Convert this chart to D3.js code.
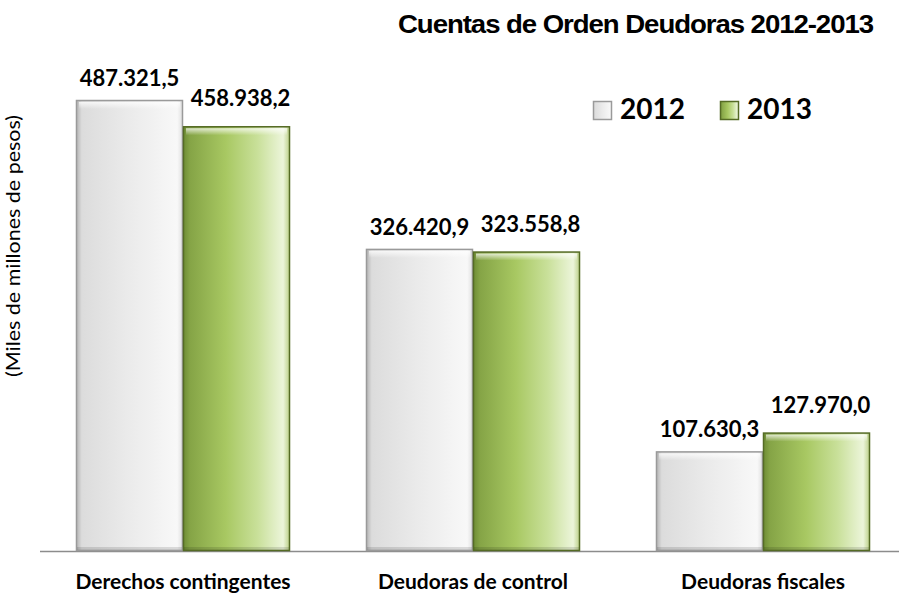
<!DOCTYPE html>
<html>
<head>
<meta charset="utf-8">
<script src="https://cdn.jsdelivr.net/npm/d3@7"></script>
<style>
  body { margin: 0; background: #fff; }
  svg { display: block; }
</style>
</head>
<body>
<script>
// datos del gráfico
const categorias = ['Derechos contingentes', 'Deudoras de control', 'Deudoras fiscales'];
const anios = ['2012', '2013'];
const valores2012 = [487321.5, 326420.9, 107630.3];
const valores2013 = [458938.2, 323558.8, 127970.0];
const etiquetas2012 = ['487.321,5', '326.420,9', '107.630,3'];
const etiquetas2013 = ['458.938,2', '323.558,8', '127.970,0'];

const width = 899, height = 594;
const base = 551, topY = 100;

const svg = d3.select('body').append('svg')
  .attr('width', width)
  .attr('height', height);

const defs = svg.append('defs');

// degradado gris (2012)
const gGris = defs.append('linearGradient').attr('id', 'gris').attr('x1', 0).attr('x2', 1).attr('y1', 0).attr('y2', 0);
[[0, '#b4b4b4'], [0.05, '#dcdcdc'], [0.5, '#ebebeb'], [0.95, '#f8f8f8'], [1, '#e0e0e0']]
  .forEach(function(s) { gGris.append('stop').attr('offset', s[0]).attr('stop-color', s[1]); });

// degradado verde (2013)
const gVerde = defs.append('linearGradient').attr('id', 'verde').attr('x1', 0).attr('x2', 1).attr('y1', 0).attr('y2', 0);
[[0, '#6f8d35'], [0.06, '#85a446'], [0.4, '#a8c862'], [0.7, '#c9e09a'], [0.94, '#ecf5da'], [1, '#bcd08a']]
  .forEach(function(s) { gVerde.append('stop').attr('offset', s[0]).attr('stop-color', s[1]); });

// brillo superior
const gBrillo = defs.append('linearGradient').attr('id', 'brillo').attr('x1', 0).attr('x2', 0).attr('y1', 0).attr('y2', 1);
gBrillo.append('stop').attr('offset', 0).attr('stop-color', '#fff').attr('stop-opacity', 0.75);
gBrillo.append('stop').attr('offset', 1).attr('stop-color', '#fff').attr('stop-opacity', 0);

// escalas
const x0 = d3.scaleBand().domain(categorias).range([38, 908]).paddingInner(0.262).paddingOuter(0.131);
const x1 = d3.scaleBand().domain(anios).range([0, x0.bandwidth()]);
const y = d3.scaleLinear().domain([0, 487321.5]).range([base, topY]);

const series = [
  { anio: '2012', valores: valores2012, etiquetas: etiquetas2012, fill: 'url(#gris)', stroke: '#9a9a9a' },
  { anio: '2013', valores: valores2013, etiquetas: etiquetas2013, fill: 'url(#verde)', stroke: '#556b25' }
];

// línea base
svg.append('line')
  .attr('x1', 40).attr('x2', width)
  .attr('y1', base + 0.5).attr('y2', base + 0.5)
  .attr('stroke', '#8c8c8c').attr('stroke-width', 1.5);

series.forEach(function(s) {
  const g = svg.append('g');
  const datos = categorias.map(function(c, i) { return { cat: c, v: s.valores[i], lbl: s.etiquetas[i] }; });

  g.selectAll('rect.barra').data(datos).enter().append('rect')
    .attr('class', 'barra')
    .attr('x', function(d) { return x0(d.cat) + x1(s.anio) + 0.5; })
    .attr('y', function(d) { return y(d.v) + 0.5; })
    .attr('width', x1.bandwidth() - 1)
    .attr('height', function(d) { return base - y(d.v) - 1; })
    .attr('fill', s.fill)
    .attr('stroke', s.stroke)
    .attr('stroke-width', 1.5);

  // brillo arriba
  g.selectAll('rect.brillo').data(datos).enter().append('rect')
    .attr('class', 'brillo')
    .attr('x', function(d) { return x0(d.cat) + x1(s.anio) + 3; })
    .attr('y', function(d) { return y(d.v) + 2; })
    .attr('width', x1.bandwidth() - 6)
    .attr('height', 7)
    .attr('fill', 'url(#brillo)');

  // sombra abajo
  g.selectAll('rect.sombra').data(datos).enter().append('rect')
    .attr('class', 'sombra')
    .attr('x', function(d) { return x0(d.cat) + x1(s.anio) + 1; })
    .attr('y', base - 4)
    .attr('width', x1.bandwidth() - 2)
    .attr('height', 3)
    .attr('fill', '#000').attr('opacity', 0.12);

  g.selectAll('text').data(datos).enter().append('text')
    .attr('x', function(d) { return x0(d.cat) + x1(s.anio) + x1.bandwidth() / 2 + (s.anio === '2013' ? 4 : 0); })
    .attr('y', function(d) { return y(d.v) - (s.anio === '2013' ? 20 : 14); })
    .attr('text-anchor', 'middle')
    .style('font-family', 'Lato, "Open Sans", sans-serif')
    .style('font-weight', 'bold')
    .style('font-size', '22px')
    .attr('fill', '#000')
    .text(function(d) { return d.lbl; });
});

// etiquetas de categoría
svg.append('g').selectAll('text').data(categorias).enter().append('text')
  .attr('x', function(d) { return x0(d) + x0.bandwidth() / 2; })
  .attr('y', 589)
  .attr('text-anchor', 'middle')
  .style('font-family', 'Lato, "Open Sans", sans-serif')
  .style('font-weight', 'bold')
  .style('font-size', '21px')
  .text(function(d) { return d; });

// título
svg.append('text')
  .attr('x', 398).attr('y', 33)
  .attr('textLength', 475).attr('lengthAdjust', 'spacingAndGlyphs')
  .style('font-family', '"Liberation Sans", Arial, sans-serif')
  .style('font-weight', 'bold')
  .style('font-size', '26px')
  .style('letter-spacing', '-1px')
  .text('Cuentas de Orden Deudoras 2012-2013');

// eje y
svg.append('text')
  .attr('transform', 'translate(20,246) rotate(-90)')
  .attr('text-anchor', 'middle')
  .attr('textLength', 262).attr('lengthAdjust', 'spacingAndGlyphs')
  .style('font-family', 'Lato, "Open Sans", sans-serif')
  .style('font-size', '20px')
  .text('(Miles de millones de pesos)');

// leyenda
const leyenda = svg.append('g');
series.forEach(function(s, i) {
  const lx = 593 + i * 127;
  leyenda.append('rect')
    .attr('x', lx + 0.5).attr('y', 101.5)
    .attr('width', 18).attr('height', 18)
    .attr('fill', s.fill).attr('stroke', s.stroke).attr('stroke-width', 1.5);
  leyenda.append('text')
    .attr('x', lx + 27).attr('y', 119)
    .style('font-family', 'Lato, "Open Sans", sans-serif')
    .style('font-weight', 'bold')
    .style('font-size', '28px')
    .text(s.anio);
});
</script>
</body>
</html>
